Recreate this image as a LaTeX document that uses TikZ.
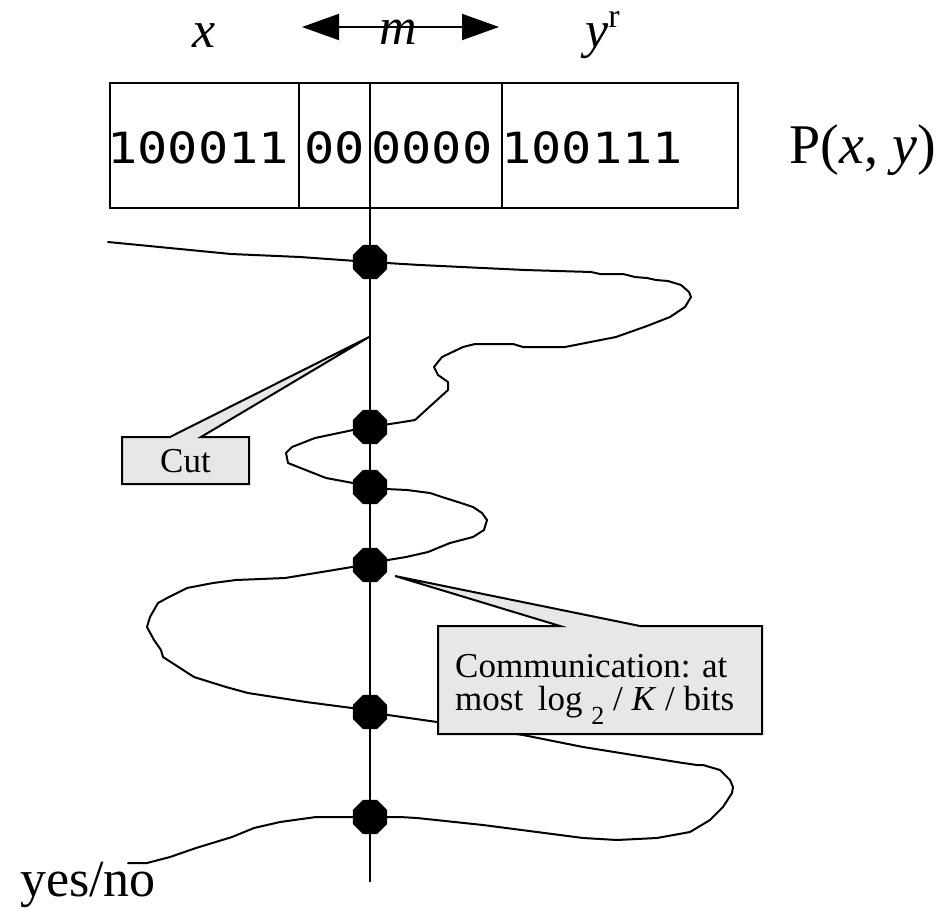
\documentclass[tikz,border=0pt]{standalone}
\usepackage{fontspec}
\setmainfont{Liberation Serif}
\newfontfamily\digitfont[FakeStretch=1.17]{DejaVu Sans Mono}
\usetikzlibrary{arrows.meta,shapes.geometric,backgrounds}
\definecolor{calloutgray}{HTML}{E6E7E8}
\begin{document}
\begin{tikzpicture}[x=1pt,y=-1pt,
  blob/.style={regular polygon, regular polygon sides=8, minimum size=37pt, inner sep=0pt, fill=black, draw=none},
  curveline/.style={line width=2pt, line join=round, line cap=round},
  thinline/.style={line width=2pt},
  callout/.style={fill=calloutgray, draw=black, line width=2pt, line join=miter},
  biglabel/.style={font=\fontsize{52}{60}\selectfont, inner sep=0pt},
  boxtext/.style={font=\fontsize{35}{40}\selectfont, inner sep=0pt, anchor=base west},
  digits/.style={font=\digitfont\fontsize{43}{50}\selectfont, inner sep=0pt, anchor=base west},
  dblarrow/.style={line width=2pt, {Triangle[length=37pt,width=26pt]}-{Triangle[length=37pt,width=26pt]}}
]
\useasboundingbox (0,0) rectangle (942,913);

% labels above
\node[biglabel, anchor=base] (lx) at (204,47) {\textit{x}};
\node[biglabel, anchor=base] (lm) at (398,44) {\textit{m}};
\node[biglabel, anchor=base west] (ly) at (585,47) {\textit{y}\raisebox{20pt}{\fontsize{34}{38}\selectfont r}};
\coordinate (arrL) at (302,27);
\coordinate (arrR) at (499,27);
\draw[dblarrow] (arrL) -- (arrR);

% the string box
\draw[thinline] (110,83) rectangle (738,208);
\draw[thinline] (299,83) -- (299,208);
\draw[thinline] (502,83) -- (502,208);
\node[digits] (g1) at (107,163) {100011};
\node[digits] (g2) at (304,163) {00};
\node[digits] (g3) at (371,163) {0000};
\node[digits] (g4) at (501,163) {100111};
\node[biglabel, anchor=base east, font=\fontsize{56}{64}\selectfont] (pxy) at (936,163) {P(\textit{x}, \textit{y})};
\node[biglabel, anchor=base west] (yn) at (20,896) {yes/no};

% dots on the cut
\node[blob] (d1) at (370,262) {};
\node[blob] (d2) at (370,427) {};
\node[blob] (d3) at (370,487) {};
\node[blob] (d4) at (370,565) {};
\node[blob] (d5) at (370,712) {};
\node[blob] (d6) at (370,817) {};
\coordinate (vtop) at (370,83);
\coordinate (vbot) at (370,882);

\begin{pgfonlayer}{background}
\draw[thinline] (vtop) -- (vbot);
\draw[curveline] (108,242) -- (231,254) -- (300,257) -- (d1.center)
  -- (420,265) -- (525,270) -- (591,272) -- (600,274) -- (623,274) -- (635,277)
  -- (647,278) -- (656,280) -- (668,281) -- (681,285) -- (689,292) -- (691,297)
  -- (685,307) -- (670,317) -- (647,326) -- (616,337) -- (565,347) -- (523,347)
  -- (513,344) -- (475,344) -- (463,347) -- (442,357) -- (434,367) -- (438,375)
  -- (448,382) -- (448,390) -- (415,420) -- (403,422) -- (d2.center)
  -- (353,430) -- (315,438) -- (292,447) -- (286,453) -- (288,463) -- (326,478)
  -- (353,483) -- (d3.center)
  -- (386,489) -- (407,490) -- (430,493) -- (442,497) -- (461,503) -- (473,507)
  -- (482,513) -- (487,520) -- (484,530) -- (473,537) -- (450,543) -- (428,552)
  -- (406,557) -- (388,560) -- (d4.center)
  -- (352,567) -- (334,570) -- (285,578) -- (236,580) -- (213,583) -- (187,588)
  -- (169,597) -- (158,603) -- (150,617) -- (147,627) -- (154,640) -- (161,650)
  -- (163,657) -- (194,677) -- (226,687) -- (248,693) -- (306,702) -- (352,708)
  -- (d5.center)
  -- (388,715) -- (437,722) -- (523,735) -- (583,747) -- (633,755) -- (683,763)
  -- (697,765) -- (703,765) -- (720,770) -- (730,780) -- (733,787) -- (732,793)
  -- (723,807) -- (710,820) -- (690,832) -- (657,838) -- (617,840) -- (583,838)
  -- (537,832) -- (483,825) -- (417,818) -- (400,817) -- (d6.center)
  -- (352,817) -- (316,817) -- (280,822) -- (254,828) -- (232,837) -- (196,848)
  -- (170,857) -- (147,863) -- (128,863);
\end{pgfonlayer}

% callout: Cut
\coordinate (cuttip) at (369,337);
\draw[callout] (122,437) -- (170,437) -- (cuttip) -- (201,437) -- (249,437)
  -- (249,484) -- (122,484) -- cycle;
\node[font=\fontsize{35}{40}\selectfont, inner sep=0pt, anchor=base] (cut) at (185.5,472) {Cut};

% callout: communication
\coordinate (comtip) at (395,576);
\draw[callout] (438,626) -- (560,626) -- (comtip) -- (640,626) -- (762,626)
  -- (762,734) -- (438,734) -- cycle;
\node[boxtext] (c1) at (455,677) {Communication: at};
\node[boxtext] (c2) at (455,710) {most\, log {\raisebox{-14pt}{\fontsize{26}{30}\selectfont 2}} / \textit{K} / bits};
\end{tikzpicture}
\end{document}
